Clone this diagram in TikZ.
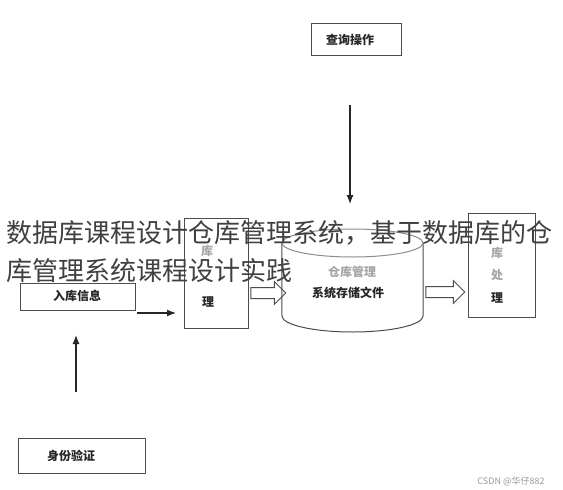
\documentclass[tikz,border=0pt]{standalone}
\usepackage{fontspec}
\newfontfamily\cjk{Noto Sans CJK SC}
\usetikzlibrary{shapes.arrows,arrows.meta}
\begin{document}
\begin{tikzpicture}[x=1pt,y=-1pt,
  box/.style={draw=black!70, line width=1pt, inner sep=0pt},
  lbl/.style={font=\cjk\bfseries\fontsize{12}{14}\selectfont, text=black!85, inner sep=0pt},
  faint/.style={font=\cjk\bfseries\fontsize{12}{14}\selectfont, text=black!35, inner sep=0pt},
  conn/.style={draw=black!85, line width=1.2pt, -{Latex[length=9pt,width=7pt]}},
  harrow/.style={single arrow, draw=black!70, line width=1pt, inner sep=5pt,
    single arrow head extend=6pt, single arrow head indent=0pt, shape border rotate=0},
  overlay/.style={font=\cjk\fontsize{26}{30}\selectfont, text=black!75, inner sep=0pt, anchor=west}]
\useasboundingbox (0,0) rectangle (563,490);
\fill[white] (0,0) rectangle (563,490);

% boxes
\node[box, minimum width=90pt, minimum height=32pt] (query) at (356,39) {};
\node[lbl] (queryt) at (350,40) {查询操作};

\node[box, minimum width=115pt, minimum height=27pt] (inbox) at (77.5,296.5) {};
\node[lbl] (inboxt) at (77,296) {入库信息};

\node[box, minimum width=64pt, minimum height=110pt] (mid) at (216,273) {};
\node[faint] (mid1) at (207,251) {库};
\node[lbl] (mid3) at (208,302) {理};

\node[box, minimum width=67pt, minimum height=104pt] (rbox) at (501.5,265) {};
\node[faint] (r1) at (497,253) {库};
\node[faint] (r2) at (497,275) {处};
\node[lbl] (r3) at (497,298) {理};

\node[box, minimum width=127pt, minimum height=35pt] (idbox) at (81.5,455.5) {};
\node[lbl] (idboxt) at (71,456) {身份验证};

% cylinder
\node[minimum width=141pt, minimum height=73pt, inner sep=0pt] (db) at (352.5,279.5) {};
\draw[black!70, line width=1pt] (db.north west) -- (282,316)
  arc[start angle=180, end angle=360, x radius=70.5pt, y radius=16pt] -- (db.north east);
\draw[black!45, line width=1pt] (352.5,243) ellipse [x radius=70.5pt, y radius=14pt];
\node[faint] (dbt1) at (352,272) {仓库管理};
\node[lbl] (dbt2) at (348,293) {系统存储文件};

% hollow arrows
\node[harrow, minimum height=35pt] (ha1) at (265.5,293) {};
\node[harrow, minimum height=39pt] (ha2) at (442.5,292) {};

% line arrows
\coordinate (qa) at (350,105);
\coordinate (qb) at (350,204);
\draw[conn] (qa) -- (qb);
\coordinate (ia) at (137,313);
\coordinate (ib) at (176,313);
\draw[conn] (ia) -- (ib);
\coordinate (va) at (76,392);
\coordinate (vb) at (76,335);
\draw[conn] (va) -- (vb);

% overlay title text
\node[overlay] (ov1) at (6,233) {数据库课程设计仓库管理系统，基于数据库的仓};
\node[overlay] (ov2) at (6,271) {库管理系统课程设计实践};

% watermark
\node[font=\cjk\fontsize{9}{11}\selectfont, text=black!40, inner sep=0pt] (wm) at (511,481) {CSDN @华仔882};
\end{tikzpicture}
\end{document}
